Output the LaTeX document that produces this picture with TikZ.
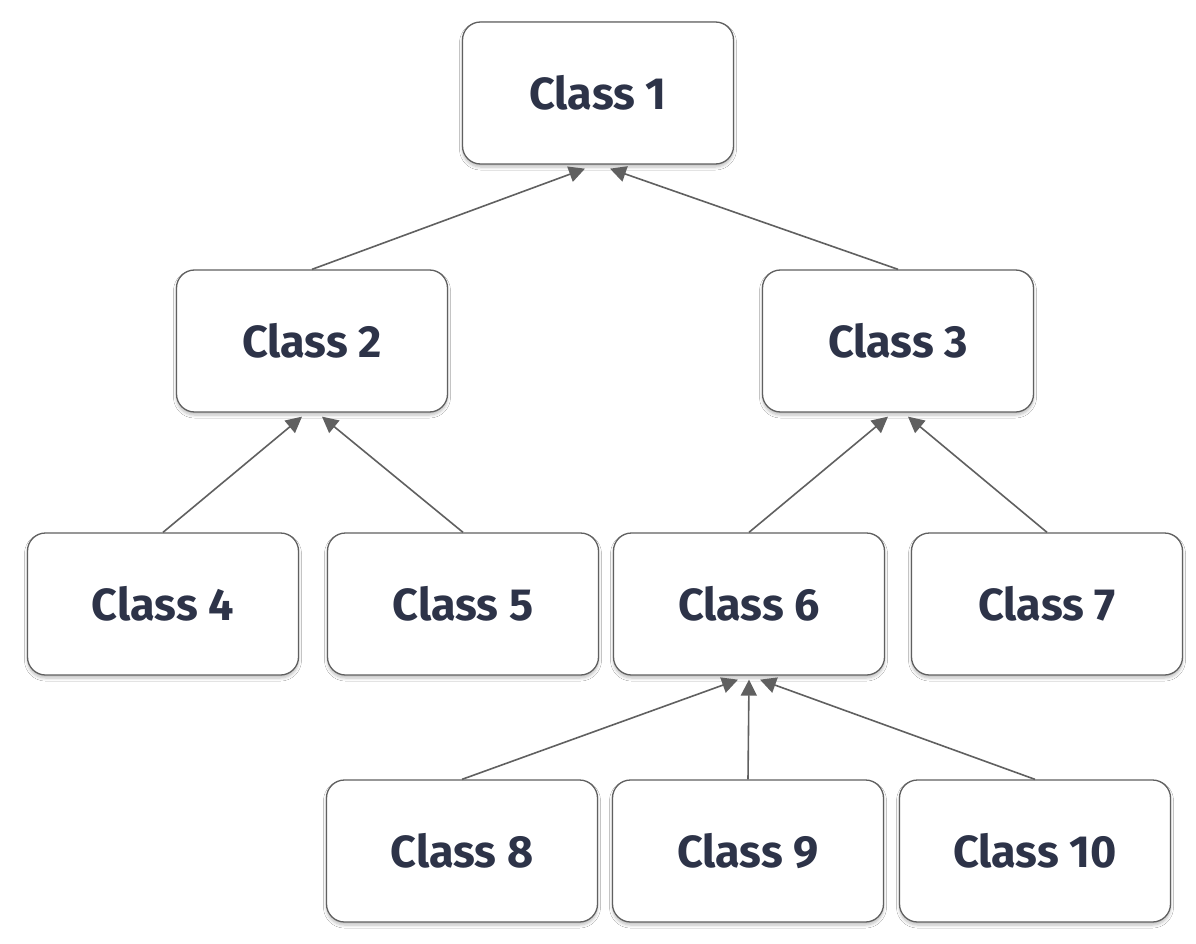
\documentclass[tikz,border=0pt]{standalone}
\usepackage{fontspec}
\setmainfont{Fira Sans}
\usetikzlibrary{calc,arrows.meta,shadows.blur}
\definecolor{txt}{HTML}{2D3348}
\definecolor{ln}{HTML}{606060}
\begin{document}
\begin{tikzpicture}[x=1pt,y=-1pt,
  box/.style={draw=ln,line width=1.3pt,rounded corners=18pt,fill=white,minimum width=271pt,minimum height=142pt,
    font=\fontsize{45}{50}\selectfont\bfseries,text=txt,inner sep=0pt,
    blur shadow={shadow xshift=0pt,shadow yshift=-3pt,shadow blur radius=3pt,shadow opacity=25,shadow blur steps=6}},
  arr/.style={draw=ln,line width=1.6pt,-{Triangle[length=16pt,width=16pt]}}]
\useasboundingbox[fill=white] (0,0) rectangle (1196,944);
\node[box] (c1) at (598,93) {Class 1};
\node[box] (c2) at (312,341) {Class 2};
\node[box] (c3) at (898,341) {Class 3};
\node[box] (c4) at (163,604) {Class 4};
\node[box] (c5) at (463,604) {Class 5};
\node[box] (c6) at (749,604) {Class 6};
\node[box] (c7) at (1047,604) {Class 7};
\node[box] (c8) at (462,851) {Class 8};
\node[box] (c9) at (748,851) {Class 9};
\node[box] (c10) at (1035,851) {Class 10};
\coordinate (e12) at ($(c1.south)+(-13,4)$);
\coordinate (e13) at ($(c1.south)+(12,4)$);
\coordinate (e24) at ($(c2.south)+(-10,4)$);
\coordinate (e25) at ($(c2.south)+(10,4)$);
\coordinate (e36) at ($(c3.south)+(-10,4)$);
\coordinate (e37) at ($(c3.south)+(10,4)$);
\coordinate (e68) at ($(c6.south)+(-11,4)$);
\coordinate (e69) at ($(c6.south)+(0,4)$);
\coordinate (e610) at ($(c6.south)+(11,4)$);
\draw[arr] (c2.north) -- (e12);
\draw[arr] (c3.north) -- (e13);
\draw[arr] (c4.north) -- (e24);
\draw[arr] (c5.north) -- (e25);
\draw[arr] (c6.north) -- (e36);
\draw[arr] (c7.north) -- (e37);
\draw[arr] (c8.north) -- (e68);
\draw[arr] (c9.north) -- (e69);
\draw[arr] (c10.north) -- (e610);
\end{tikzpicture}
\end{document}
